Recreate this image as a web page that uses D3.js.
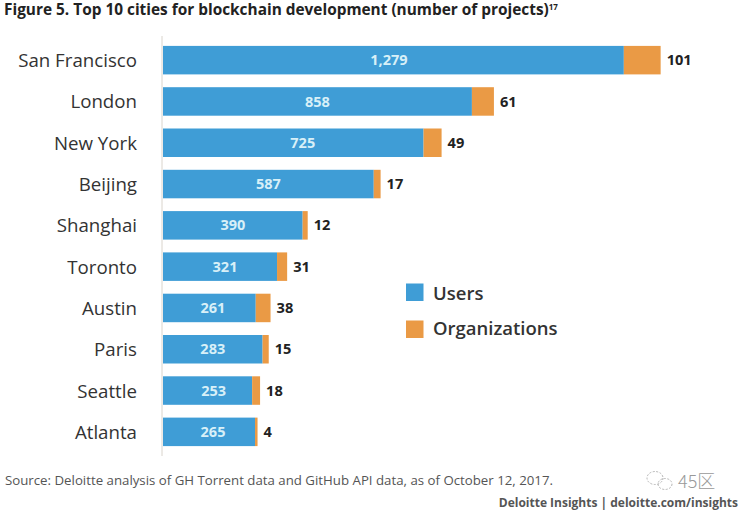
<!DOCTYPE html>
<html>
<head>
<meta charset="utf-8">
<script src="https://cdn.jsdelivr.net/npm/d3@7/dist/d3.min.js"></script>
<style>
    html, body { margin: 0; padding: 0; background: #fff; }
    svg { display: block; font-family: "Open Sans", sans-serif; }
</style>
</head>
<body>
<div id="chart"></div>
<script>
const cities = ["San Francisco", "London", "New York", "Beijing", "Shanghai", "Toronto", "Austin", "Paris", "Seattle", "Atlanta"];
const users = [1279, 858, 725, 587, 390, 321, 261, 283, 253, 265];
const organizations = [101, 61, 49, 17, 12, 31, 38, 15, 18, 4];
// the source bars are not quite to scale with their labels, so these are the lengths as drawn
const usersDrawn = [1277, 856, 722, 584, 387, 316, 257, 276, 247, 255];
const organizationsDrawn = [102, 61, 50, 19, 14, 28, 41, 17, 22, 7];
// the white labels are not centred in the source either
const usersLabelShift = [-4.5, 0, 9.5, 0, 0, 5, 3.5, 0, 6, 4];
const legendLabels = ["Users", "Organizations"];

const blue = "#3f9dd6";
const orange = "#ea9a45";

let svg = d3.select("#chart").append("svg")
    .attr("width", 740)
    .attr("height", 512);

let x = d3.scaleLinear().domain([0, 1380]).range([163, 661]);
let y = d3.scaleBand().domain(cities).range([39.5, 452.5]).paddingInner(0.31).paddingOuter(0.155);

// title
let title = svg.append("text")
    .attr("x", 4)
    .attr("y", 15)
    .attr("font-size", 15.4)
    .attr("font-weight", 700)
    .attr("fill", "#222");
title.append("tspan").text("Figure 5. Top 10 cities for blockchain development (number of projects)");
title.append("tspan").attr("font-size", 8).attr("dy", -5).text("17");

// bars
let rows = svg.selectAll("g.row")
    .data(cities)
    .join("g")
    .attr("class", "row");

rows.append("rect")
    .attr("x", x(0))
    .attr("y", d => y(d))
    .attr("width", (d, i) => x(usersDrawn[i]) - x(0))
    .attr("height", y.bandwidth())
    .attr("fill", blue);

rows.append("rect")
    .attr("x", (d, i) => x(usersDrawn[i]))
    .attr("y", d => y(d))
    .attr("width", (d, i) => x(usersDrawn[i] + organizationsDrawn[i]) - x(usersDrawn[i]))
    .attr("height", y.bandwidth())
    .attr("fill", orange);

rows.append("text")
    .attr("x", (d, i) => (x(0) + x(usersDrawn[i])) / 2 + usersLabelShift[i])
    .attr("y", d => y(d) + y.bandwidth() / 2)
    .attr("dy", "0.35em")
    .attr("text-anchor", "middle")
    .attr("font-size", 14.5)
    .attr("font-weight", 700)
    .attr("fill", "#d8f0f8")
    .text((d, i) => d3.format(",")(users[i]));

rows.append("text")
    .attr("x", (d, i) => x(usersDrawn[i] + organizationsDrawn[i]) + 6)
    .attr("y", d => y(d) + y.bandwidth() / 2)
    .attr("dy", "0.35em")
    .attr("font-size", 14.6)
    .attr("font-weight", 700)
    .attr("fill", "#222")
    .text((d, i) => organizations[i]);

// city axis
let axis = svg.append("g")
    .attr("transform", "translate(162,0)")
    .call(d3.axisLeft(y).tickSize(0).tickPadding(25));
axis.select(".domain").attr("stroke", "#d9d4cc").attr("stroke-width", 1).attr("d", "M0,36V456");
axis.selectAll("text")
    .attr("font-family", '"Open Sans", sans-serif')
    .attr("font-size", 18.7)
    .attr("transform", "translate(0,1)")
    .attr("fill", "#333");

// legend, the swatches sit a bit wider apart than the labels in the source
let legend = svg.selectAll("g.legend")
    .data(legendLabels)
    .join("g")
    .attr("class", "legend");
legend.append("rect")
    .attr("x", 406)
    .attr("y", (d, i) => 283.5 + i * 37)
    .attr("width", 17.5)
    .attr("height", 17.5)
    .attr("fill", (d, i) => i == 0 ? blue : orange);
legend.append("text")
    .attr("x", 433)
    .attr("y", (d, i) => 300 + i * 35)
    .attr("font-size", 18.5)
    .attr("font-weight", 600)
    .attr("fill", "#333")
    .text(d => d);

// footer
svg.append("text")
    .attr("x", 5)
    .attr("y", 485)
    .attr("font-size", 13.25)
    .attr("fill", "#555")
    .text("Source: Deloitte analysis of GH Torrent data and GitHub API data, as of October 12, 2017.");

svg.append("text")
    .attr("x", 738)
    .attr("y", 507)
    .attr("text-anchor", "end")
    .attr("font-size", 12)
    .attr("font-weight", 700)
    .attr("fill", "#555")
    .text("Deloitte Insights | deloitte.com/insights");

// watermark
let mark = svg.append("g")
    .attr("fill", "none")
    .attr("stroke", "#b5b5b5")
    .attr("stroke-width", 1)
    .attr("stroke-dasharray", "2 1.5");
mark.append("ellipse").attr("cx", 655).attr("cy", 478).attr("rx", 8).attr("ry", 6.5);
mark.append("ellipse").attr("cx", 665).attr("cy", 484).attr("rx", 7).attr("ry", 5.5);

svg.append("text")
    .attr("x", 678)
    .attr("y", 488)
    .attr("font-size", 18)
    .attr("fill", "#999")
    .attr("font-family", '"Noto Sans CJK SC", sans-serif')
    .attr("font-weight", 300)
    .text("45区");
</script>
</body>
</html>
